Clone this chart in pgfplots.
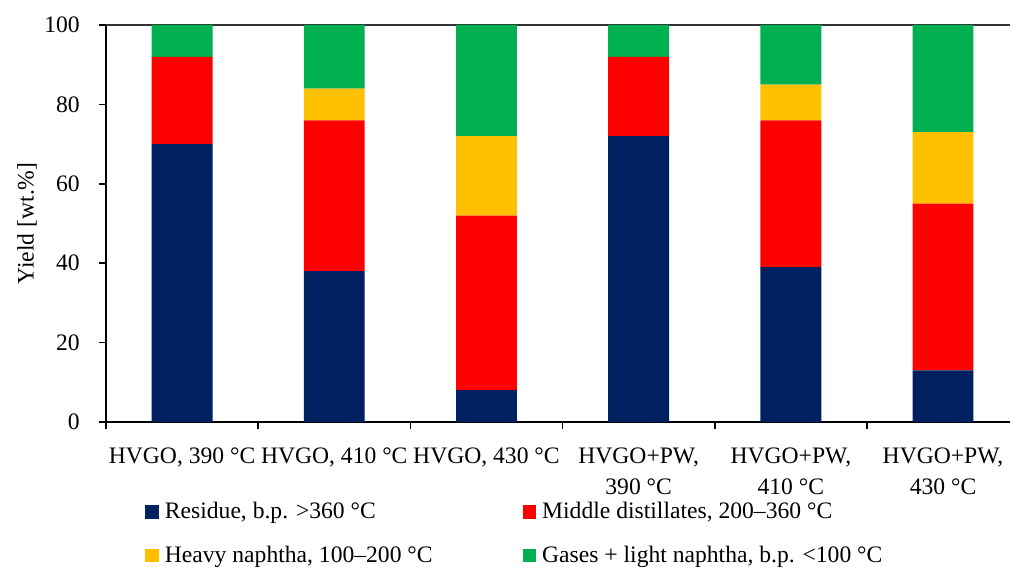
\documentclass[border=0pt]{standalone}
\usepackage{fontspec}
\setmainfont{Liberation Serif}
\usepackage{pgfplots}
\pgfplotsset{compat=1.18}
\definecolor{cres}{HTML}{002060}
\definecolor{cmid}{HTML}{FF0000}
\definecolor{chvy}{HTML}{FFC000}
\definecolor{cgas}{HTML}{00B050}
\pgfplotsset{sqlegend/.style={legend image code/.code={\fill[##1] (0bp,-3.4bp) rectangle (6.8bp,3.4bp);}}}
\begin{document}
\fontsize{11.8bp}{15.5bp}\selectfont
\begin{tikzpicture}
\useasboundingbox (-53bp,-73.5bp) rectangle (452bp,211bp);
\begin{axis}[
  at={(0,0)}, anchor=south west,
  scale only axis, width=452bp, height=198.5bp,
  ybar stacked, bar width=0.4,
  xmin=0.5, xmax=6.44, ymin=0, ymax=100,
  enlarge x limits=false, enlarge y limits=false,
  axis lines*=left,
  axis line style={black, line width=0.8bp},
  xtick={1,2,3,4,5,6},
  xticklabels={{HVGO, 390 °C},{HVGO, 410 °C},{HVGO, 430 °C},{HVGO+PW,\\390 °C},{HVGO+PW,\\410 °C},{HVGO+PW,\\430 °C}},
  xticklabel style={align=center, anchor=north, yshift=-8bp, inner sep=1bp},
  yticklabel style={xshift=-5.5bp},
  major x tick style={draw=none},
  minor xtick={0.5,1.5,2.5,3.5,4.5,5.5},
  ytick={0,20,40,60,80,100},
  extra y ticks={100}, extra y tick labels={},
  extra y tick style={grid=major, major grid style={draw=black!80, line width=0.8bp}},
  tick align=outside,
  major tick length=3.5bp, minor tick length=3.5bp,
  tick style={black, line width=0.8bp},
  /pgf/number format/assume math mode=true,
  ylabel={Yield [wt.\%]},
  ylabel style={at={(axis description cs:-0.0874,0.5)}, anchor=center},
  legend columns=2,
  legend cell align=left,
  legend style={draw=none, fill=none, inner sep=0pt,
    at={(axis description cs:0.0431,-0.19)}, anchor=north west,
    /tikz/every odd column/.append style={column sep=1bp},
    /tikz/every even column/.append style={column sep=43bp},
    /tikz/row sep=8bp},
]
\addplot[fill=cres, draw=none, sqlegend] coordinates {(1,70) (2,38) (3,8) (4,72) (5,39) (6,13)};
\addlegendentry{Residue, b.p. >360 °C}
\addplot[fill=cmid, draw=none, sqlegend] coordinates {(1,22) (2,38) (3,44) (4,20) (5,37) (6,42)};
\addlegendentry{Middle distillates, 200–360 °C}
\addplot[fill=chvy, draw=none, sqlegend] coordinates {(1,0) (2,8) (3,20) (4,0) (5,9) (6,18)};
\addlegendentry{Heavy naphtha, 100–200 °C}
\addplot[fill=cgas, draw=none, sqlegend] coordinates {(1,8) (2,16) (3,28) (4,8) (5,15) (6,27)};
\addlegendentry{Gases + light naphtha, b.p. <100 °C}
\end{axis}
\end{tikzpicture}
\end{document}
